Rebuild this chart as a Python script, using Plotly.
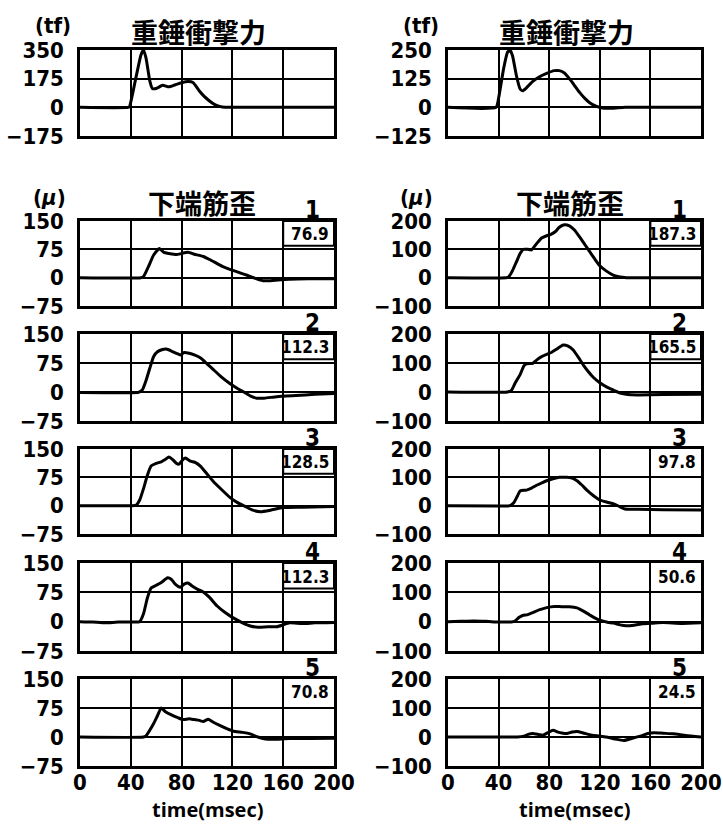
import plotly.graph_objects as go

# ---------------- data ----------------
x_ticks = [0, 40, 80, 120, 160, 200]

# impact force (tf)
force_L_t = [0, 38, 39, 44, 48, 50, 52, 55, 57, 60, 65, 70, 75, 80, 85, 89, 94, 98, 101, 105, 108, 112, 120, 200]
force_L_v = [0, 0, 5, 180, 320, 350, 300, 160, 115, 115, 135, 125, 138, 150, 157, 152, 100, 65, 45, 22, 10, 2, 0, 0]
force_R_t = [0, 38, 40, 44, 47, 49, 51, 54, 57, 59, 62, 67, 72, 78, 84, 88, 92, 96, 100, 104, 108, 112, 117, 122, 130, 140, 200]
force_R_v = [0, 0, 40, 170, 240, 250, 225, 140, 80, 72, 85, 113, 132, 148, 160, 160, 150, 125, 95, 65, 40, 20, 5, -3, -4, 0, 0]

# bottom rebar strain (micro), left column
L1_t = [0, 48, 50, 54, 58, 62.5, 66, 70, 76, 80, 85, 90, 97, 102, 107, 112, 118, 125, 131, 138, 144, 150, 156, 165, 180, 200]
L1_v = [0, 0, 3, 30, 60, 77, 67, 64, 61, 64, 67, 62, 56, 48, 39, 30, 22, 14, 7, -2, -8, -8, -6, -4, -3, -3]
L2_t = [0, 20, 40, 46, 49, 52, 55, 58, 61, 65, 68, 72, 76, 79, 82, 86, 90, 95, 100, 105, 111, 118, 124, 129, 134, 139, 145, 155, 170, 185, 200]
L2_v = [-1, -2, -2, -1, 5, 30, 62, 92, 104, 110, 111, 106, 100, 96, 102, 100, 96, 88, 73, 58, 40, 22, 9, 0, -10, -16, -16, -12, -9, -6, -4]
L3_t = [0, 40, 44, 47, 50, 53, 56, 60, 64, 67, 70, 73, 76, 78, 81, 83, 87, 91, 95, 100, 105, 111, 118, 124, 130, 136, 142, 150, 160, 175, 200]
L3_v = [0, 0, 1, 15, 45, 80, 105, 112, 116, 122, 129, 122, 112, 110, 122, 126, 118, 114, 104, 84, 64, 44, 22, 8, -2, -12, -16, -12, -5, -4, -2]
L4_t = [0, 10, 20, 30, 40, 47, 50, 53, 56, 60, 64, 69, 72, 75, 79, 82, 85, 88, 93, 97, 102, 108, 114, 121, 128, 134, 140, 148, 155, 160, 165, 175, 185, 200]
L4_v = [0, -1, -3, -1, -1, 0, 20, 60, 86, 93, 100, 112, 108, 96, 88, 96, 99, 92, 82, 76, 62, 40, 24, 9, -3, -11, -14, -13, -13, -8, -3, -5, -3, -2]
L5_t = [0, 50, 52, 55, 58, 61, 64, 67, 72, 77, 81, 86, 90, 94, 97, 101, 104, 110, 116, 121, 128, 134, 140, 146, 152, 165, 200]
L5_v = [0, 0, 3, 18, 35, 55, 75, 66, 57, 50, 45, 47, 45, 43, 40, 46, 40, 30, 21, 15, 12, 8, 0, -5, -6, -4, -3]

# bottom rebar strain (micro), right column
R1_t = [0, 46, 48, 51, 54, 57, 59.5, 63, 66, 70, 74, 78, 81, 85, 88, 92, 96, 100, 104, 108, 112, 116, 120, 125, 131, 136, 141, 200]
R1_v = [0, 0, 3, 25, 55, 85, 100, 100, 98, 120, 140, 148, 152, 163, 178, 187, 183, 168, 144, 118, 92, 66, 42, 24, 8, 2, 0, 0]
R2_t = [0, 47, 50, 53, 57, 60, 62, 67, 70, 74, 78, 82, 86, 91, 95, 99, 103, 107, 111, 115, 120, 126, 131, 136, 142, 150, 170, 200]
R2_v = [0, 0, 5, 30, 60, 90, 97, 99, 110, 122, 130, 137, 148, 162, 158, 145, 120, 93, 70, 50, 32, 16, 6, -4, -9, -10, -9, -8]
R3_t = [0, 40, 49, 52, 55, 57, 62, 66, 70, 74, 78, 83, 88, 94, 98, 102, 106, 110, 115, 120, 126, 131, 136, 140, 150, 170, 200]
R3_v = [0, -1, 0, 10, 35, 52, 55, 62, 72, 80, 88, 95, 100, 100, 97, 88, 72, 54, 35, 20, 12, 6, -4, -12, -13, -14, -15]
R4_t = [0, 10, 20, 30, 40, 50, 53, 56, 59, 63, 67, 72, 78, 84, 90, 96, 102, 107, 112, 116, 120, 126, 131, 136, 141, 147, 154, 162, 170, 185, 200]
R4_v = [0, 1, 2, 1, -1, -1, 2, 14, 21, 24, 31, 40, 48, 52, 51, 51, 47, 36, 23, 13, 5, -2, -5, -11, -14, -12, -7, -5, -3, -6, -4]
R5_t = [0, 40, 55, 60, 64, 67, 72, 75, 79, 83, 87, 90, 94, 98, 102, 107, 112, 118, 125, 132, 139, 145, 152, 158, 163, 170, 178, 188, 200]
R5_v = [0, 0, 0, 3, 10, 12, 8, 6, 15, 23, 17, 14, 12, 17, 19, 14, 8, 4, 0, -7, -12, -5, 3, 12, 15, 13, 11, 5, 0]

force_L_ticks = [-175, 0, 175, 350]
force_R_ticks = [-125, 0, 125, 250]
strain_L_ticks = [-75, 0, 75, 150]
strain_R_ticks = [-100, 0, 100, 200]

peak_L = ["76.9", "112.3", "128.5", "112.3", "70.8"]
peak_R = ["187.3", "165.5", "97.8", "50.6", "24.5"]
gauge_no = ["1", "2", "3", "4", "5"]

title_force = "重錘衝撃力"
title_strain = "下端筋歪"
x_title = "time(msec)"

# ---------------- layout helpers ----------------
W, H = 723, 824
def px(x): return x / W
def py(y): return 1 - y / H

rows_px = [(50, 136), (221, 306), (334, 421), (449, 534), (563, 651), (679, 766)]
cols_px = [(80, 334), (448, 701)]

NUMFAM = "DejaVu Sans Condensed, Liberation Sans Narrow, DejaVu Sans"
TICKFONT = dict(family=NUMFAM, size=22, color="black", weight="bold")
CJK = "Noto Sans CJK JP"

def minus(v):
    return ("−" + str(-v)) if v < 0 else str(v)

fig = go.Figure()
layout = dict(template="none", width=W, height=H, margin=dict(l=0, r=0, t=0, b=0, autoexpand=False),
              paper_bgcolor="white", plot_bgcolor="white", showlegend=False)
annotations = []
shapes = []

series = {
    (0, 0): (force_L_t, force_L_v), (0, 1): (force_R_t, force_R_v),
    (1, 0): (L1_t, L1_v), (2, 0): (L2_t, L2_v), (3, 0): (L3_t, L3_v), (4, 0): (L4_t, L4_v), (5, 0): (L5_t, L5_v),
    (1, 1): (R1_t, R1_v), (2, 1): (R2_t, R2_v), (3, 1): (R3_t, R3_v), (4, 1): (R4_t, R4_v), (5, 1): (R5_t, R5_v),
}
boxed = {(1, 0), (2, 0), (3, 0), (4, 0), (1, 1), (2, 1)}

idx = 0
for c in range(2):
    for r in range(6):
        idx += 1
        xa = "xaxis" if idx == 1 else f"xaxis{idx}"
        ya = "yaxis" if idx == 1 else f"yaxis{idx}"
        xr = "x" if idx == 1 else f"x{idx}"
        yr = "y" if idx == 1 else f"y{idx}"
        if r == 0:
            ticks = force_L_ticks if c == 0 else force_R_ticks
        else:
            ticks = strain_L_ticks if c == 0 else strain_R_ticks
        t, v = series[(r, c)]
        fig.add_trace(go.Scatter(x=t, y=v, xaxis=xr, yaxis=yr, mode="lines",
                                 line=dict(color="black", width=3, shape="spline", smoothing=0.5),
                                 hoverinfo="skip"))
        layout[xa] = dict(domain=[px(cols_px[c][0]), px(cols_px[c][1])], anchor=yr, automargin=False,
                          range=[0, 200], tickvals=x_ticks, ticktext=[str(x) for x in x_ticks],
                          showticklabels=(r == 5), tickfont=TICKFONT, ticks="", ticklabelstandoff=-5,
                          showgrid=True, gridcolor="black", gridwidth=1.5, zeroline=False,
                          showline=True, linecolor="black", linewidth=2.5, mirror=True, fixedrange=True)
        layout[ya] = dict(domain=[py(rows_px[r][1]), py(rows_px[r][0])], anchor=xr, automargin=False,
                          range=[ticks[0], ticks[-1]], tickvals=ticks, ticktext=[minus(k) for k in ticks],
                          tickfont=TICKFONT, ticks="", ticklabelstandoff=9,
                          showgrid=True, gridcolor="black", gridwidth=1.5, zeroline=False,
                          showline=True, linecolor="black", linewidth=2.5, mirror=True, fixedrange=True)
        if r >= 1:
            # gauge number above plot
            annotations.append(dict(xref=f"{xr} domain", yref=f"{yr} domain", x=0.915, y=1.0,
                                    xanchor="center", yanchor="bottom", yshift=-5, showarrow=False,
                                    text=gauge_no[r - 1],
                                    font=dict(family=NUMFAM, size=24, color="black", weight="bold")))
            lab = peak_L[r - 1] if c == 0 else peak_R[r - 1]
            if (r, c) in boxed:
                shapes.append(dict(type="rect", xref=f"{xr} domain", yref=f"{yr} domain",
                                   x0=0.8, x1=1.0, y0=0.71, y1=1.0, fillcolor="white",
                                   line=dict(color="black", width=2), layer="above"))
            annotations.append(dict(xref=f"{xr} domain", yref=f"{yr} domain", x=0.99, y=0.845,
                                    xanchor="right", yanchor="middle", showarrow=False, text=lab,
                                    bgcolor="white" if (r, c) not in boxed else None,
                                    font=dict(family=NUMFAM, size=17, color="black", weight="bold")))

# titles and unit labels
for c, (cx0, cx1) in enumerate(cols_px):
    annotations.append(dict(xref="paper", yref="paper", x=px(cx0 + 118), y=py(31), showarrow=False,
                            text=title_force, xanchor="center", yanchor="middle",
                            font=dict(family=CJK, size=27, color="black", weight="bold")))
    annotations.append(dict(xref="paper", yref="paper", x=px(cx0 + 122), y=py(202), showarrow=False,
                            text=title_strain, xanchor="center", yanchor="middle",
                            font=dict(family=CJK, size=27, color="black", weight="bold")))
    annotations.append(dict(xref="paper", yref="paper", x=px(cx0 - 27), y=py(26), showarrow=False,
                            text="(tf)", xanchor="center", yanchor="middle",
                            font=dict(family=NUMFAM, size=22, color="black", weight="bold")))
    annotations.append(dict(xref="paper", yref="paper", x=px(cx0 - 31), y=py(197), showarrow=False,
                            text="(<i>μ</i>)", xanchor="center", yanchor="middle",
                            font=dict(family=NUMFAM, size=22, color="black", weight="bold")))
    annotations.append(dict(xref="paper", yref="paper", x=px((cx0 + cx1) / 2), y=py(809), showarrow=False,
                            text=x_title, xanchor="center", yanchor="middle",
                            font=dict(family="Open Sans, DejaVu Sans", size=20, color="black", weight="bold")))

layout["annotations"] = annotations
layout["shapes"] = shapes
fig.update_layout(**layout)
fig.write_html("out.html", config={"displayModeBar": False},
               post_script="document.body.style.margin='0';document.body.style.overflow='hidden';")
